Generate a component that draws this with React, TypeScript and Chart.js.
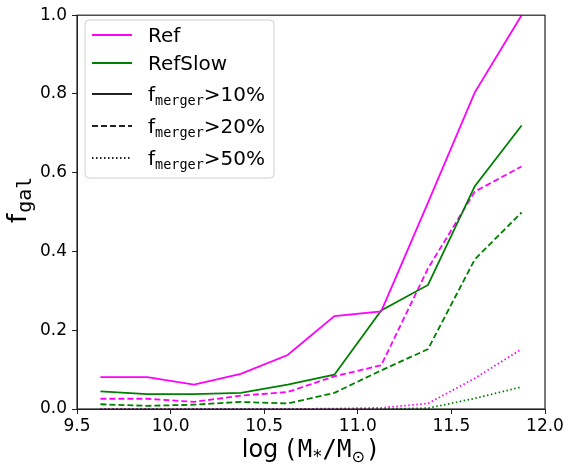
import React, { useEffect, useRef } from "react";
import { Chart, registerables } from "chart.js";

Chart.register(...registerables);

const massBins = [9.625, 9.875, 10.125, 10.375, 10.625, 10.875, 11.125, 11.375, 11.625, 11.875];
const refAbove10 = [0.081, 0.081, 0.062, 0.089, 0.137, 0.236, 0.248, 0.524, 0.804, 1.0];
const refSlowAbove10 = [0.045, 0.038, 0.038, 0.041, 0.062, 0.087, 0.25, 0.315, 0.566, 0.72];
const refAbove20 = [0.026, 0.026, 0.018, 0.034, 0.043, 0.083, 0.111, 0.357, 0.552, 0.616];
const refSlowAbove20 = [0.012, 0.008, 0.011, 0.018, 0.014, 0.041, 0.098, 0.152, 0.38, 0.499];
const refAbove50 = [0, 0, 0, 0, 0, 0.001, 0.003, 0.014, 0.078, 0.152];
const refSlowAbove50 = [0, 0, 0, 0, 0, 0, 0, 0.002, 0.027, 0.056];
const xTicks = [9.5, 10.0, 10.5, 11.0, 11.5, 12.0];
const yTicks = [0.0, 0.2, 0.4, 0.6, 0.8, 1.0];

const MAGENTA = "#ff00ff";
const GREEN = "#008000";
const SANS = "'DejaVu Sans', sans-serif";
const MONO = "'DejaVu Sans Mono', monospace";
const DASH = [6, 3];
const DOT = [1.5, 2.5];

const legendItems = [
  { main: "Ref", sub: "", tail: "", color: MAGENTA, dash: [] as number[] },
  { main: "RefSlow", sub: "", tail: "", color: GREEN, dash: [] as number[] },
  { main: "f", sub: "merger", tail: ">10%", color: "#222", dash: [] as number[] },
  { main: "f", sub: "merger", tail: ">20%", color: "#222", dash: DASH },
  { main: "f", sub: "merger", tail: ">50%", color: "#222", dash: DOT },
];

function pts(ys: number[]) {
  return massBins.map((x, i) => ({ x, y: ys[i] }));
}

const decorPlugin = {
  id: "decor",
  afterDraw(chart: any) {
    const ctx = chart.ctx as CanvasRenderingContext2D;
    const a = chart.chartArea;
    ctx.save();
    // frame
    ctx.strokeStyle = "#222";
    ctx.lineWidth = 1.2;
    ctx.setLineDash([]);
    ctx.strokeRect(a.left, a.top, a.right - a.left, a.bottom - a.top);

    // x title
    ctx.fillStyle = "#000";
    ctx.textBaseline = "alphabetic";
    const parts: [string, string, number, number][] = [
      ["log", `24px ${SANS}`, 0, 5],
      ["(M", `24px ${MONO}`, 0, 0],
      ["*", `17px ${MONO}`, 5, 0],
      ["/M", `24px ${MONO}`, 0, 0],
      ["\u2299", `16px ${SANS}`, 5, 1],
      [")", `24px ${MONO}`, 0, 0],
    ];
    let total = 0;
    for (const [t, f, , gap] of parts) {
      ctx.font = f;
      total += ctx.measureText(t).width + gap;
    }
    let x = (a.left + a.right) / 2 - total / 2;
    const base = 457;
    for (const [t, f, dy, gap] of parts) {
      ctx.font = f;
      ctx.fillText(t, x, base + dy);
      x += ctx.measureText(t).width + gap;
    }

    // y title
    ctx.save();
    ctx.translate(26, 223);
    ctx.rotate(-Math.PI / 2);
    ctx.font = `26px ${SANS}`;
    ctx.fillText("f", 0, 0);
    const fw = ctx.measureText("f").width;
    ctx.font = `20px ${MONO}`;
    ctx.fillText("gal", fw + 1, 5);
    ctx.restore();

    // legend
    const lx = 85, ly = 20, lw = 189, lh = 158;
    ctx.beginPath();
    const r = 4;
    ctx.moveTo(lx + r, ly);
    ctx.lineTo(lx + lw - r, ly);
    ctx.quadraticCurveTo(lx + lw, ly, lx + lw, ly + r);
    ctx.lineTo(lx + lw, ly + lh - r);
    ctx.quadraticCurveTo(lx + lw, ly + lh, lx + lw - r, ly + lh);
    ctx.lineTo(lx + r, ly + lh);
    ctx.quadraticCurveTo(lx, ly + lh, lx, ly + lh - r);
    ctx.lineTo(lx, ly + r);
    ctx.quadraticCurveTo(lx, ly, lx + r, ly);
    ctx.closePath();
    ctx.fillStyle = "rgba(255,255,255,0.8)";
    ctx.fill();
    ctx.strokeStyle = "#d0d0d0";
    ctx.lineWidth = 1;
    ctx.stroke();

    const rowY = [35, 63, 94, 126, 158];
    legendItems.forEach((it, i) => {
      const yy = rowY[i];
      ctx.strokeStyle = it.color;
      ctx.lineWidth = 1.8;
      ctx.setLineDash(it.dash);
      ctx.beginPath();
      ctx.moveTo(92, yy);
      ctx.lineTo(132, yy);
      ctx.stroke();
      ctx.setLineDash([]);
      ctx.fillStyle = "#000";
      ctx.textBaseline = "alphabetic";
      let tx = 148;
      const tb = yy + 7;
      ctx.font = `20px ${SANS}`;
      ctx.fillText(it.main, tx, tb);
      tx += ctx.measureText(it.main).width;
      if (it.sub) {
        ctx.font = `13.5px ${MONO}`;
        ctx.fillText(it.sub, tx, tb + 4);
        tx += ctx.measureText(it.sub).width;
        ctx.font = `20px ${SANS}`;
        ctx.fillText(it.tail, tx, tb);
      }
    });
    ctx.restore();
  },
};

export default function App() {
  const ref = useRef<HTMLCanvasElement | null>(null);
  useEffect(() => {
    document.body.style.margin = "0";
    const canvas = ref.current!;
    const line = (ys: number[], color: string, dash: number[]) => ({
      data: pts(ys),
      borderColor: color,
      backgroundColor: color,
      borderWidth: 1.8,
      borderDash: dash,
      pointRadius: 0,
      tension: 0,
      fill: false,
    });
    const chart = new Chart(canvas, {
      type: "line",
      data: {
        datasets: [
          line(refAbove10, MAGENTA, []),
          line(refSlowAbove10, GREEN, []),
          line(refAbove20, MAGENTA, DASH),
          line(refSlowAbove20, GREEN, DASH),
          line(refAbove50, MAGENTA, DOT),
          line(refSlowAbove50, GREEN, DOT),
        ],
      },
      options: {
        animation: false,
        responsive: false,
        devicePixelRatio: 1,
        layout: { padding: { top: 10, right: 23, left: 0, bottom: 0 } },
        plugins: { legend: { display: false }, tooltip: { enabled: false } },
        scales: {
          x: {
            type: "linear",
            min: 9.5,
            max: 12.0,
            afterBuildTicks: (s: any) => {
              s.ticks = xTicks.map((v) => ({ value: v }));
            },
            afterFit: (s: any) => {
              s.height = 60;
            },
            ticks: {
              callback: (v: any) => Number(v).toFixed(1),
              color: "#000",
              font: { family: SANS, size: 17 },
              padding: 2,
              maxRotation: 0,
            },
            grid: { drawOnChartArea: false, tickLength: 5, color: "#222" },
            border: { color: "#222" },
          },
          y: {
            type: "linear",
            min: 0,
            max: 1,
            afterBuildTicks: (s: any) => {
              s.ticks = yTicks.map((v) => ({ value: v }));
            },
            afterFit: (s: any) => {
              s.width = 77;
            },
            ticks: {
              callback: (v: any) => Number(v).toFixed(1),
              color: "#000",
              font: { family: SANS, size: 17 },
              padding: 5,
            },
            grid: { drawOnChartArea: false, tickLength: 5, color: "#222" },
            border: { color: "#222" },
          },
        },
      },
      plugins: [decorPlugin],
    });
    return () => chart.destroy();
  }, []);
  return (
    <div style={{ width: 568, height: 469 }}>
      <canvas ref={ref} width={568} height={469} style={{ width: 568, height: 469, display: "block" }} />
    </div>
  );
}
